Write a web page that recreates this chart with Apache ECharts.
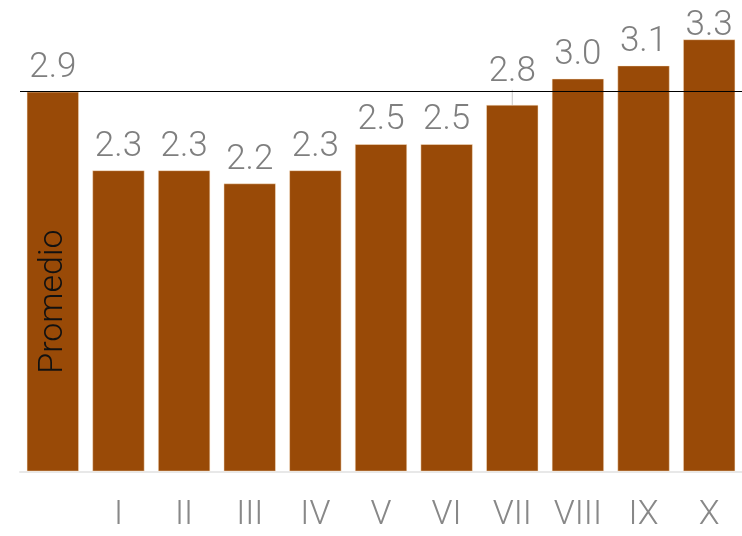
<!DOCTYPE html>
<html><head><meta charset="utf-8">
<script src="https://cdn.jsdelivr.net/npm/echarts@6/dist/echarts.min.js"></script>
<style>html,body{margin:0;padding:0;background:#fff}#c{width:742px;height:536px}</style>
</head><body><div id="c"></div>
<script>
const categories = ['Promedio','I','II','III','IV','V','VI','VII','VIII','IX','X'];
const tickLabels = ['','I','II','III','IV','V','VI','VII','VIII','IX','X'];
const values = [2.9, 2.3, 2.3, 2.2, 2.3, 2.5, 2.5, 2.8, 3.0, 3.1, 3.3];
const averageValue = 2.9;
const averageLabel = 'Promedio';

const FONT = 'Roboto';
const chart = echarts.init(document.getElementById('c'));
chart.setOption({
  animation: false,
  grid: {left: 20, right: -4, top: 0, bottom: 64.5},
  xAxis: {
    type: 'category', data: categories,
    axisLine: {lineStyle: {color: '#e8e8e8', width: 2}},
    axisTick: {show: false},
    axisLabel: {
      formatter: (v, i) => tickLabels[i],
      color: '#888', fontFamily: FONT, fontWeight: 300, fontSize: 34, margin: 27
    }
  },
  yAxis: {type: 'value', min: 0, max: 3.6, show: false, splitLine: {show: false}},
  series: [{
    type: 'bar',
    barCategoryGap: '20.3%',
    data: values.map((v, i) => i === 7 ? {value: v, labelLine: {show: true}} : v),
    itemStyle: {color: '#994A07', borderColor: 'rgba(255,235,210,0.6)', borderWidth: 0.8},
    label: {
      show: true, position: 'top', distance: 6,
      formatter: p => p.value.toFixed(1),
      color: '#7f7f7f', fontFamily: FONT, fontWeight: 300, fontSize: 35
    },
    labelLine: {show: false, lineStyle: {color: '#c8c8c8', width: 1}},
    labelLayout: p => p.dataIndex === 7 ? {dy: -9} : (p.dataIndex === 10 ? {dy: 10} : {}),
    markLine: {
      silent: true, symbol: 'none',
      lineStyle: {color: '#000', width: 1.2, type: 'solid'},
      label: {show: false},
      data: [{yAxis: averageValue}]
    },
    z: 2
  }, {
    type: 'bar',
    barGap: '-100%',
    barCategoryGap: '20.3%',
    data: values.map((v, i) => i === 0 ? v : '-'),
    itemStyle: {color: 'rgba(0,0,0,0)'},
    label: {
      show: true, position: 'inside', rotate: 90, offset: [-20, 1],
      formatter: () => averageLabel,
      color: '#111', fontFamily: FONT, fontWeight: 300, fontSize: 34
    },
    z: 3
  }]
});
</script></body></html>
